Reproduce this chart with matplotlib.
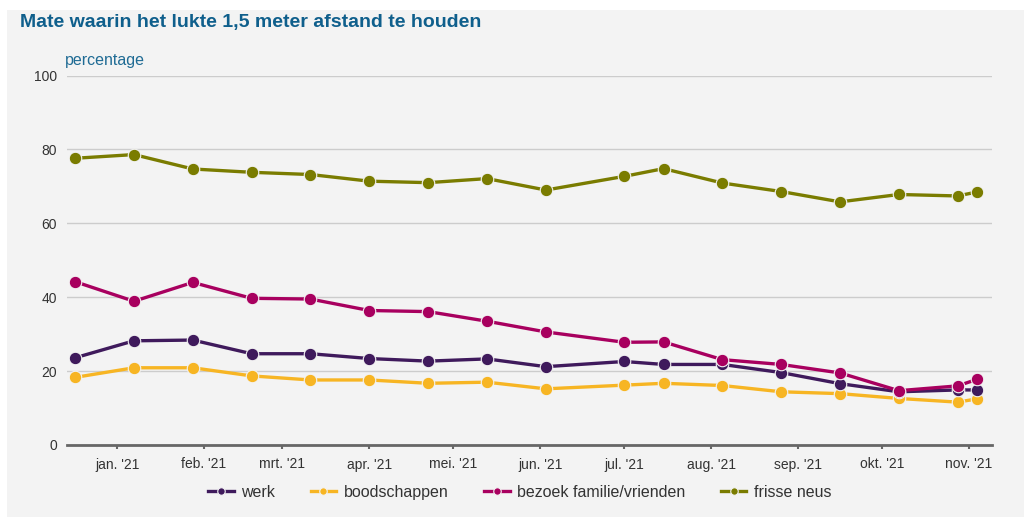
import matplotlib
matplotlib.use("Agg")
import matplotlib.pyplot as plt
import matplotlib.patches as patches
import numpy as np
import datetime as dt

plt.rcParams['font.family'] = ['Liberation Sans', 'DejaVu Sans']

# meetmomenten (ongeveer om de drie weken)
dates = ["2020-12-17", "2021-01-07", "2021-01-28", "2021-02-18", "2021-03-11",
         "2021-04-01", "2021-04-22", "2021-05-13", "2021-06-03", "2021-07-01",
         "2021-07-15", "2021-08-05", "2021-08-26", "2021-09-16", "2021-10-07",
         "2021-10-28", "2021-11-04"]

werk = [23.6, 28.2, 28.4, 24.7, 24.7, 23.4, 22.7, 23.3, 21.2, 22.6,
        21.8, 21.8, 19.6, 16.6, 14.4, 14.9, 14.9]
boodschappen = [18.3, 20.9, 20.9, 18.7, 17.6, 17.6, 16.7, 17.0, 15.2, 16.2,
                16.7, 16.1, 14.4, 13.9, 12.6, 11.6, 12.5]
bezoek = [44.2, 38.9, 44.0, 39.7, 39.5, 36.4, 36.1, 33.5, 30.6, 27.8,
          27.9, 23.1, 21.8, 19.5, 14.7, 16.0, 17.8]
frisse_neus = [77.6, 78.6, 74.7, 73.8, 73.2, 71.4, 71.0, 72.1, 69.0, 72.7,
               74.8, 70.9, 68.6, 65.8, 67.8, 67.4, 68.5]

month_labels = ["jan. '21", "feb. '21", "mrt. '21", "apr. '21", "mei. '21", "jun. '21",
                "jul. '21", "aug. '21", "sep. '21", "okt. '21", "nov. '21"]

series = [
    ("werk", werk, "#3f1a5c", 3),
    ("boodschappen", boodschappen, "#f7b523", 2),
    ("bezoek familie/vrienden", bezoek, "#a8005f", 4),
    ("frisse neus", frisse_neus, "#7a7c00", 5),
]

x = [dt.datetime.strptime(d, "%Y-%m-%d") for d in dates]

fig = plt.figure(figsize=(10.24, 5.18), dpi=100)
fig.patch.set_facecolor("white")
# grijs paneel achter de grafiek
fig.patches.append(patches.Rectangle((7 / 1024, 1 / 518), 1 - 7 / 1024, 507 / 518,
                                     transform=fig.transFigure, facecolor="#f3f3f3",
                                     edgecolor="none", zorder=-5))

ax = fig.add_axes([66.7 / 1024, 1 - 445 / 518, (991.7 - 66.7) / 1024, (445 - 75.5) / 518])
ax.set_zorder(2)
ax.set_facecolor("none")

for name, vals, col, z in series:
    ax.plot(x, vals, color=col, linewidth=2.4, marker="o", markersize=9,
            markeredgecolor="#f3f3f3", markeredgewidth=0.8, label=name, zorder=z,
            clip_on=False)

ax.set_ylim(0, 100)
ax.set_xlim(dt.datetime(2020, 12, 14), dt.datetime(2021, 11, 9, 3))
ax.set_yticks(np.arange(0, 101, 20))
ax.yaxis.grid(True, color="#cccccc", linewidth=1)
ax.set_axisbelow(True)

month_ticks = [dt.datetime(2021, m, 1) for m in range(1, 12)]
ax.set_xticks(month_ticks)
ax.set_xticklabels(month_labels)

for s in ["top", "right", "left"]:
    ax.spines[s].set_visible(False)
ax.spines["bottom"].set_color("#666666")
ax.spines["bottom"].set_linewidth(2)

ax.tick_params(axis="y", length=0, labelsize=10, labelcolor="#333333", pad=7)
ax.tick_params(axis="x", length=3, width=1.5, color="#666666", labelsize=10,
               labelcolor="#333333", pad=6)

fig.text(20 / 1024, 1 - 22 / 518, "Mate waarin het lukte 1,5 meter afstand te houden",
         fontsize=14, fontweight="bold", color="#0f5f8c", va="center", ha="left")
fig.text(65 / 1024, 1 - 60 / 518, "percentage", fontsize=11.5, color="#1f6b94",
         va="center", ha="left")

leg = ax.legend(loc="upper center", bbox_to_anchor=(0.49, -0.068), ncol=4, frameon=False,
                fontsize=11.5, handlelength=1.6, handletextpad=0.5, columnspacing=2.2,
                markerscale=0.6)
for t in leg.get_texts():
    t.set_color("#333333")

fig.savefig("out.png", dpi=100)
